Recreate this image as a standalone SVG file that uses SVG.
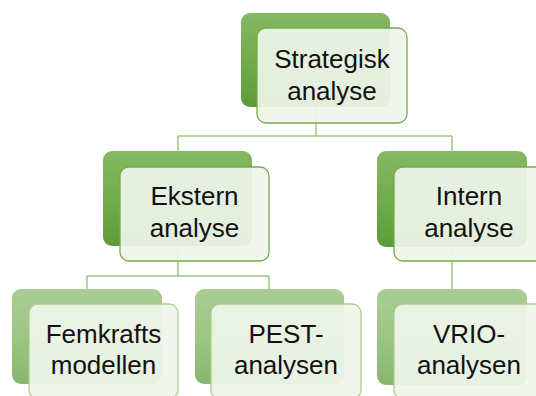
<svg xmlns="http://www.w3.org/2000/svg" width="536" height="396" viewBox="0 0 536 396">
<defs>
<linearGradient id="g1" x1="0" y1="0" x2="0" y2="1">
<stop offset="0" stop-color="#84B862"/>
<stop offset="0.5" stop-color="#72AC4C"/>
<stop offset="1" stop-color="#5E9B38"/>
</linearGradient>
<linearGradient id="g2" x1="0" y1="0" x2="0" y2="1">
<stop offset="0" stop-color="#ABCD95"/>
<stop offset="0.5" stop-color="#9DC583"/>
<stop offset="1" stop-color="#8AB56E"/>
</linearGradient>
<style>
.conn{fill:none;stroke:#9BC97E;stroke-width:1.5}
.b1{fill:url(#g1)}
.b2{fill:url(#g2)}
.f1{fill:#F0F5EB;fill-opacity:0.92;stroke:#72AD4B;stroke-width:1.3}
.f2{fill:#F0F5EB;fill-opacity:0.92;stroke:#A9D08E;stroke-width:1.3}
.t{font-family:"Liberation Sans",Arial,sans-serif;font-size:26px;fill:#111;text-anchor:middle}
</style>
</defs>
<g id="connectors">
<path class="conn" d="M316,107 V136 M178,136 H452 M178,136 V151 M452,136 V151"/>
<path class="conn" d="M178,246 V276 M87,276 H269 M87,276 V289 M269,276 V289"/>
<path class="conn" d="M452,247 V289"/>
</g>
<g id="strategisk">
<rect class="b1" x="241" y="13" width="149" height="94" rx="9"/>
<rect class="f1" x="257" y="28" width="150" height="95" rx="9"/>
<text class="t" x="332" y="68">Strategisk</text>
<text class="t" x="332" y="100">analyse</text>
</g>
<g id="ekstern">
<rect class="b1" x="103" y="151" width="149" height="95" rx="9"/>
<rect class="f1" x="120" y="167" width="149" height="94" rx="9"/>
<text class="t" x="194.5" y="205">Ekstern</text>
<text class="t" x="194.5" y="237">analyse</text>
</g>
<g id="intern">
<rect class="b1" x="377" y="151" width="150" height="96" rx="9"/>
<rect class="f1" x="394" y="167" width="150" height="94" rx="9"/>
<text class="t" x="469" y="205">Intern</text>
<text class="t" x="469" y="237">analyse</text>
</g>
<g id="femkrafts">
<rect class="b2" x="12" y="289" width="150" height="95" rx="9"/>
<rect class="f2" x="29" y="304" width="149" height="95" rx="9"/>
<text class="t" x="103.5" y="343">Femkrafts</text>
<text class="t" x="103.5" y="374">modellen</text>
</g>
<g id="pest">
<rect class="b2" x="195" y="289" width="149" height="95" rx="9"/>
<rect class="f2" x="211" y="304" width="150" height="95" rx="9"/>
<text class="t" x="286" y="343">PEST-</text>
<text class="t" x="286" y="374">analysen</text>
</g>
<g id="vrio">
<rect class="b2" x="377" y="289" width="150" height="96" rx="9"/>
<rect class="f2" x="394" y="304" width="150" height="95" rx="9"/>
<text class="t" x="469" y="343">VRIO-</text>
<text class="t" x="469" y="374">analysen</text>
</g>
</svg>
